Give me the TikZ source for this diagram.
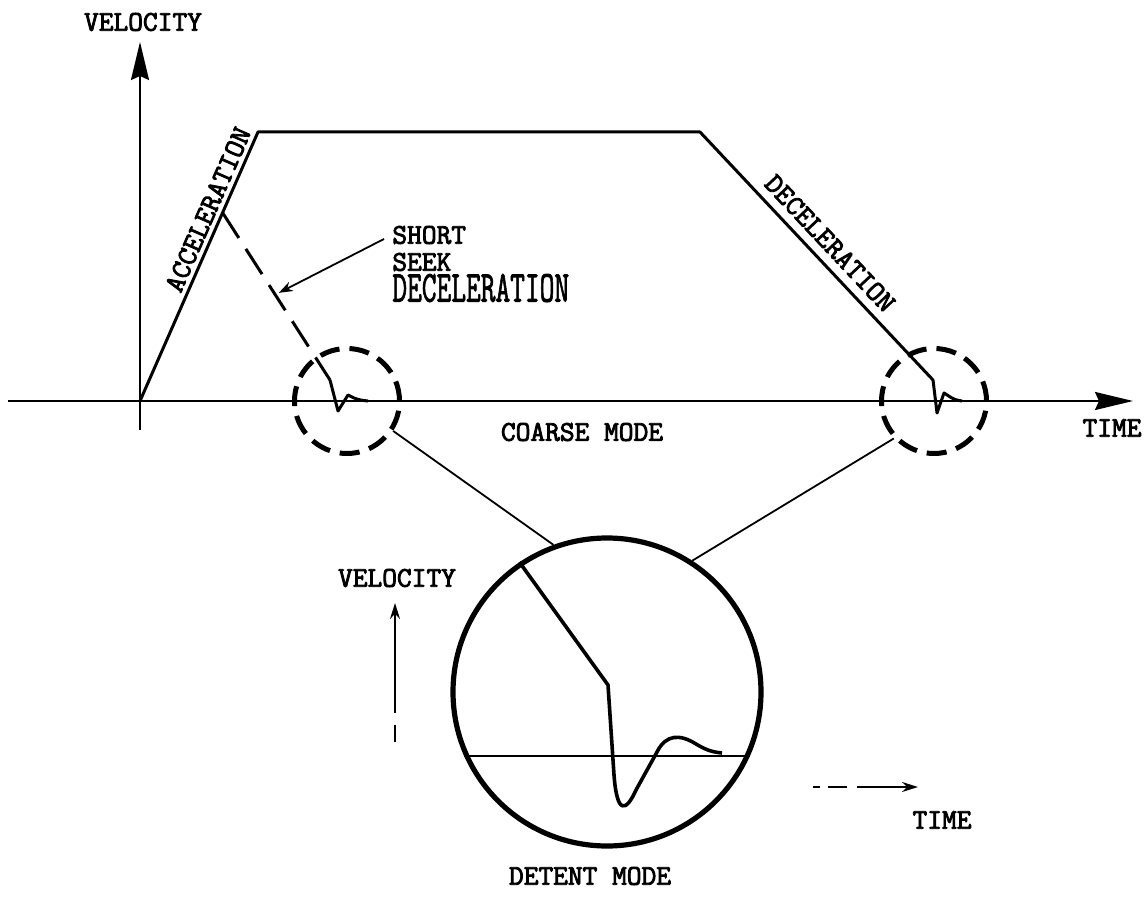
\documentclass[tikz,border=0pt]{standalone}
\usepackage{fontspec}
\newfontfamily\typewriter[FakeBold=3]{Latin Modern Mono}
\newfontfamily\typewriterthin[FakeBold=2]{Latin Modern Mono}
\usepackage{graphicx}
\usetikzlibrary{arrows.meta, calc}

\begin{document}
\begin{tikzpicture}[x=0.5pt, y=-0.5pt,
  axis/.style={line width=1pt, -{Stealth[length=19pt, width=9pt, inset=2pt]}},
  profile/.style={line width=1.5pt, line join=round},
  ring/.style={circle, draw, line width=2.5pt, dash pattern=on 10pt off 5pt,
    minimum size=52.5pt, inner sep=0pt},
  lens/.style={circle, draw, line width=2.6pt, minimum size=154pt, inner sep=0pt},
  link/.style={line width=0.9pt},
  pointer/.style={line width=0.9pt, -{Stealth[length=7pt, width=5pt]}},
  tag/.style={font=\typewriter\fontsize{14.3}{16}\selectfont, inner sep=1pt},
]
\useasboundingbox (0,0) rectangle (1144,897);

\coordinate (O) at (140,401);
\coordinate (vtop) at (140,42);
\coordinate (vbot) at (140,430);
\coordinate (hleft) at (8,401);
\coordinate (htip) at (1133,401);
\coordinate (accTop) at (258,132);
\coordinate (decTop) at (700,132);
\coordinate (decEnd) at (933,380);
\coordinate (ssStart) at ($(O)!0.70!(accTop)$);
\coordinate (ssKnee) at (330,380);
\coordinate (ssHit) at ($(ssStart)!0.49!(ssKnee)$);

% coarse mode axes
\draw[axis] (vbot) -- (vtop);
\draw[axis] (hleft) -- (htip);
\node[tag] (velTitle) at (143,22) {VELOCITY};
\node[tag] (timeTitle) at (1112,428) {TIME};

% long seek profile
\draw[profile] (O) -- node[tag, sloped, above=1pt, pos=0.69] (accTxt) {ACCELERATION} (accTop)
  -- (decTop) -- node[tag, sloped, above=3pt, pos=0.5] (decTxt) {DECELERATION} (decEnd)
  -- (937,413) -- (944,393) .. controls (948,395) and (952,400) .. (962,401);

% short seek
\draw[profile, dash pattern=on 15pt off 6.5pt] (ssStart) -- (ssKnee);
\draw[profile] (ssKnee) -- (338,411) -- (348,395) .. controls (352,397) and (356,400) .. (368,401);
\node[tag, anchor=west] (short) at (390,235) {SHORT};
\node[tag, anchor=west] (seek) at (390,262) {SEEK};
\node[tag, anchor=west, font=\typewriterthin\fontsize{14.3}{16}\selectfont] (decShort) at (390,288)
  {\scalebox{1}[1.55]{DECELERATION}};
\draw[pointer, shorten >=2pt] ($(short.west)+(-6,4)$) -- (ssHit);

% zoomed regions
\node[ring] (ringL) at (347,401) {};
\node[ring] (ringR) at (934,401) {};
\node[tag] (coarse) at (582,432) {COARSE MODE};
\node[lens] (lens) at (607,692) {};
\draw[link] (ringL.-33) -- (lens.110);
\draw[link] (ringR.223) -- (lens.57);

% detent mode
\draw[link] (lens.204) -- (lens.-24);
\draw[profile, line width=1.8pt] (lens.124) -- (608,685) -- (614,775)
  .. controls (617,815) and (626,812) .. (636,790) -- (657,752)
  .. controls (666,734) and (680,734) .. (696,744)
  .. controls (706,750) and (712,752) .. (722,753);

\node[tag] (velSmall) at (397,578) {VELOCITY};
\coordinate (vsBot) at (395,742);
\coordinate (vsTop) at (395,603);
\draw[line width=1pt, dash pattern=on 8.5pt off 6pt on 100pt,
  -{Stealth[length=8pt, width=5pt]}] (vsBot) -- (vsTop);

\coordinate (tsL) at (813,787);
\coordinate (tsR) at (918,787);
\draw[line width=1pt, dash pattern=on 3.5pt off 4pt on 9.5pt off 5pt on 60pt,
  -{Stealth[length=8pt, width=5pt]}] (tsL) -- (tsR);
\node[tag] (timeSmall) at (942,820) {TIME};
\node[tag] (detentTxt) at (590,876) {DETENT MODE};
\end{tikzpicture}
\end{document}
